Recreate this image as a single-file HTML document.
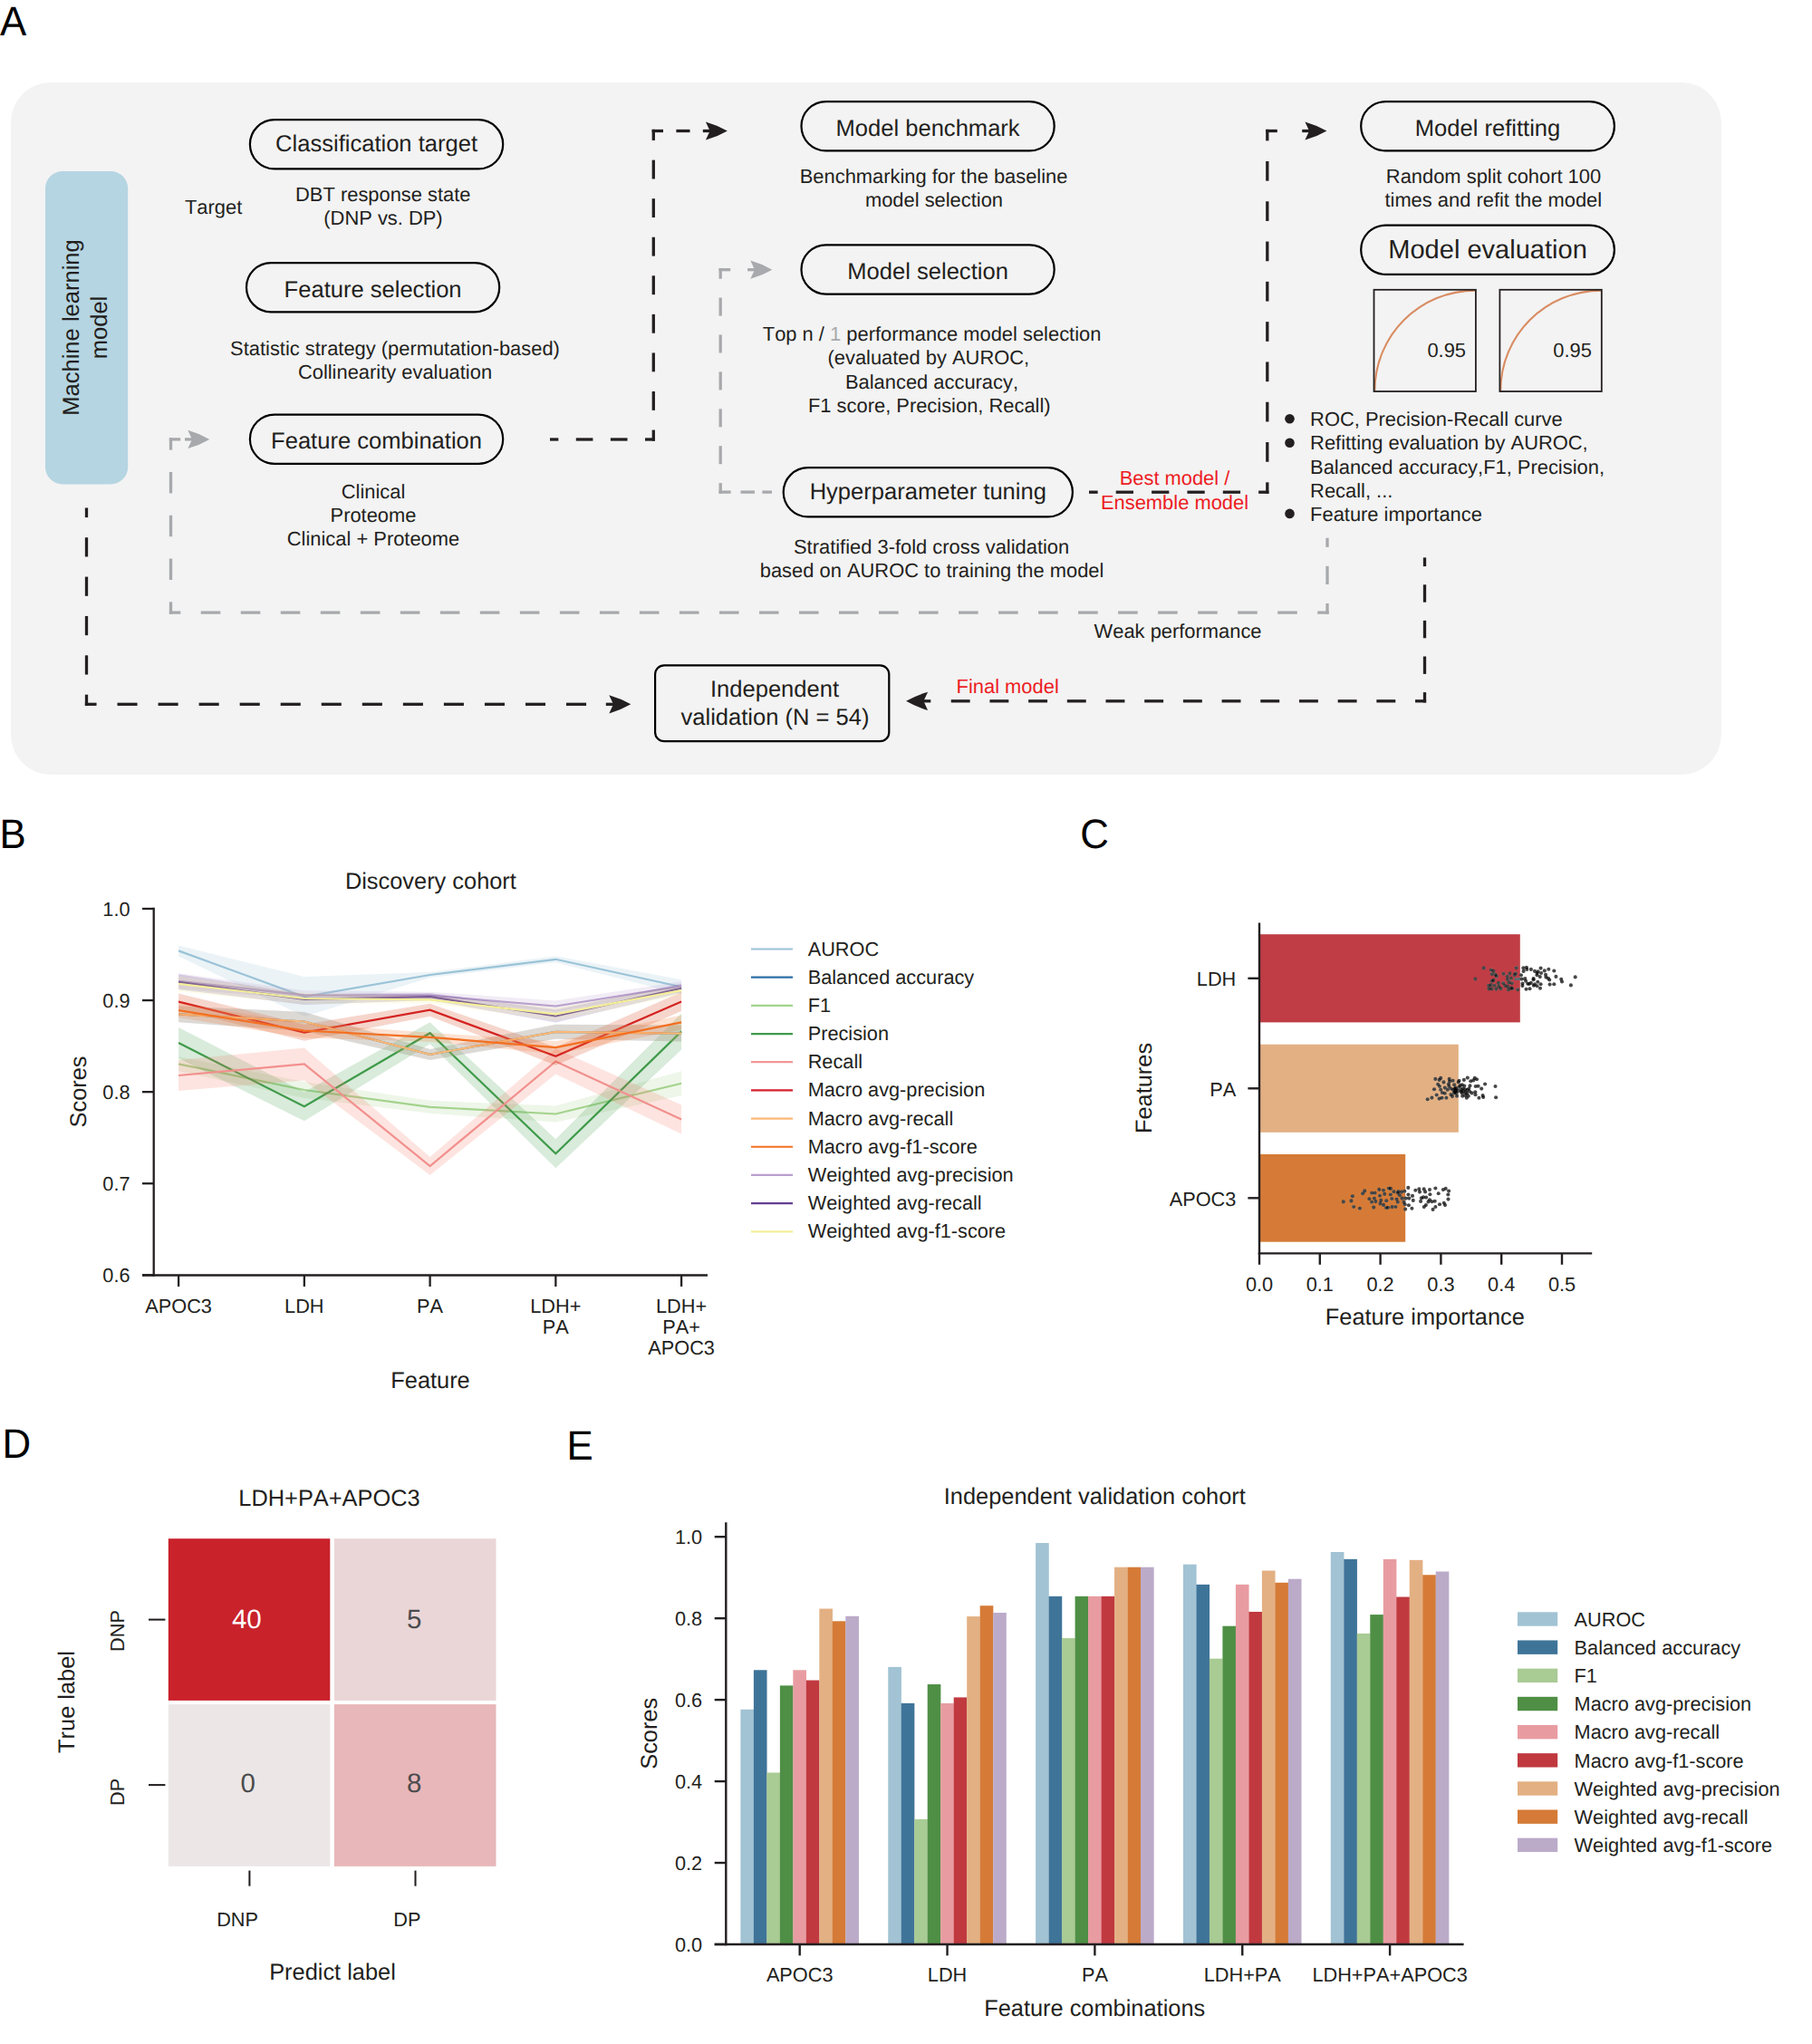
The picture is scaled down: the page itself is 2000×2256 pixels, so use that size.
<!DOCTYPE html>
<html lang="en"><head><meta charset="utf-8"><title>Figure</title>
<style>html,body{margin:0;padding:0;background:#fff;overflow:hidden}svg{display:block}text{font-family:"Liberation Sans",Arial,Helvetica,sans-serif;font-kerning:none;text-rendering:geometricPrecision}</style></head>
<body>
<svg width="2000" height="2256" viewBox="0 0 2000 2256">
<rect x="0" y="0" width="2000" height="2256" fill="#ffffff"/>
<g id="panelA">
<text transform="translate(0.00,38.60) scale(1,1.041)" font-size="43.80" fill="#000">A</text>
<rect x="12" y="91" width="1887.8" height="764" rx="44" ry="44" fill="#f3f3f3"/>
<rect x="50" y="189" width="91.2" height="345.4" rx="19" ry="19" fill="#b5d5e2"/>
<text transform="translate(87.20,361.50) rotate(-90)" font-size="25.55" text-anchor="middle" fill="#231f20">Machine learning</text>
<text transform="translate(117.50,361.50) rotate(-90)" font-size="25.55" text-anchor="middle" fill="#231f20">model</text>
<rect x="275.90" y="132.20" width="279.30" height="54.20" rx="27.10" ry="27.10" fill="none" stroke="#000" stroke-width="2.2"/>
<text x="415.55" y="167.20" font-size="25.55" text-anchor="middle" fill="#231f20">Classification target</text>
<rect x="272.00" y="290.10" width="279.20" height="54.20" rx="27.10" ry="27.10" fill="none" stroke="#000" stroke-width="2.2"/>
<text x="411.60" y="327.80" font-size="25.55" text-anchor="middle" fill="#231f20">Feature selection</text>
<rect x="275.90" y="457.65" width="279.30" height="54.20" rx="27.10" ry="27.10" fill="none" stroke="#000" stroke-width="2.2"/>
<text x="415.55" y="494.70" font-size="25.55" text-anchor="middle" fill="#231f20">Feature combination</text>
<rect x="884.50" y="112.15" width="279.20" height="54.20" rx="27.10" ry="27.10" fill="none" stroke="#000" stroke-width="2.2"/>
<text x="1024.10" y="149.50" font-size="25.55" text-anchor="middle" fill="#231f20">Model benchmark</text>
<rect x="884.50" y="270.35" width="279.20" height="54.20" rx="27.10" ry="27.10" fill="none" stroke="#000" stroke-width="2.2"/>
<text x="1024.10" y="307.80" font-size="25.55" text-anchor="middle" fill="#231f20">Model selection</text>
<rect x="864.70" y="516.20" width="319.20" height="54.20" rx="27.10" ry="27.10" fill="none" stroke="#000" stroke-width="2.2"/>
<text x="1024.30" y="550.70" font-size="25.55" text-anchor="middle" fill="#231f20">Hyperparameter tuning</text>
<rect x="1502.20" y="112.15" width="279.70" height="54.20" rx="27.10" ry="27.10" fill="none" stroke="#000" stroke-width="2.2"/>
<text x="1642.05" y="149.50" font-size="25.55" text-anchor="middle" fill="#231f20">Model refitting</text>
<rect x="1502.20" y="248.60" width="279.70" height="54.20" rx="27.10" ry="27.10" fill="none" stroke="#000" stroke-width="2.2"/>
<text x="1642.05" y="285.30" font-size="29.05" text-anchor="middle" fill="#231f20">Model evaluation</text>
<text x="204.00" y="236.00" font-size="21.90" text-anchor="start" fill="#231f20">Target</text>
<text x="422.80" y="222.00" font-size="21.90" text-anchor="middle" fill="#231f20">DBT response state</text>
<text x="423.00" y="247.90" font-size="21.90" text-anchor="middle" fill="#231f20">(DNP vs. DP)</text>
<text x="436.00" y="392.00" font-size="21.90" text-anchor="middle" fill="#231f20">Statistic strategy (permutation-based)</text>
<text x="436.00" y="418.00" font-size="21.90" text-anchor="middle" fill="#231f20">Collinearity evaluation</text>
<text x="412.00" y="549.70" font-size="21.90" text-anchor="middle" fill="#231f20">Clinical</text>
<text x="412.00" y="575.90" font-size="21.90" text-anchor="middle" fill="#231f20">Proteome</text>
<text x="412.00" y="602.40" font-size="21.90" text-anchor="middle" fill="#231f20">Clinical + Proteome</text>
<text x="1030.60" y="201.90" font-size="21.90" text-anchor="middle" fill="#231f20">Benchmarking for the baseline</text>
<text x="1031.00" y="228.00" font-size="21.90" text-anchor="middle" fill="#231f20">model selection</text>
<text x="1028.6" y="375.7" font-size="21.9" text-anchor="middle" fill="#231f20">Top n / <tspan fill="#a7a9ac">1</tspan> performance model selection</text>
<text x="1024.80" y="401.90" font-size="21.90" text-anchor="middle" fill="#231f20">(evaluated by AUROC,</text>
<text x="1028.50" y="429.00" font-size="21.90" text-anchor="middle" fill="#231f20">Balanced accuracy,</text>
<text x="1025.80" y="454.80" font-size="21.90" text-anchor="middle" fill="#231f20">F1 score, Precision, Recall)</text>
<text x="1028.10" y="610.60" font-size="21.90" text-anchor="middle" fill="#231f20">Stratified 3-fold cross validation</text>
<text x="1028.60" y="636.80" font-size="21.90" text-anchor="middle" fill="#231f20">based on AUROC to training the model</text>
<text x="1648.50" y="201.90" font-size="21.90" text-anchor="middle" fill="#231f20">Random split cohort 100</text>
<text x="1648.30" y="228.00" font-size="21.90" text-anchor="middle" fill="#231f20">times and refit the model</text>
<path d="M1517.30,432.00 C1517.30,370.03 1566.82,320.60 1628.90,320.60" fill="none" stroke="#d98c62" stroke-width="2.1"/>
<rect x="1516.50" y="319.80" width="112.40" height="112.20" fill="none" stroke="#231f20" stroke-width="1.8"/>
<text x="1575.40" y="393.60" font-size="21.90" text-anchor="start" fill="#231f20">0.95</text>
<path d="M1656.20,432.00 C1656.20,370.03 1705.72,320.60 1767.80,320.60" fill="none" stroke="#d98c62" stroke-width="2.1"/>
<rect x="1655.40" y="319.80" width="112.40" height="112.20" fill="none" stroke="#231f20" stroke-width="1.8"/>
<text x="1714.30" y="393.60" font-size="21.90" text-anchor="start" fill="#231f20">0.95</text>
<text x="1446.10" y="469.90" font-size="21.90" text-anchor="start" fill="#231f20">ROC, Precision-Recall curve</text>
<text x="1446.10" y="495.70" font-size="21.90" text-anchor="start" fill="#231f20">Refitting evaluation by AUROC,</text>
<text x="1446.10" y="522.80" font-size="21.90" text-anchor="start" fill="#231f20">Balanced accuracy,F1, Precision,</text>
<text x="1446.10" y="548.80" font-size="21.90" text-anchor="start" fill="#231f20">Recall, ...</text>
<text x="1446.10" y="574.70" font-size="21.90" text-anchor="start" fill="#231f20">Feature importance</text>
<circle cx="1423.5" cy="462.2" r="5.3" fill="#231f20"/>
<circle cx="1423.5" cy="488.8" r="5.3" fill="#231f20"/>
<circle cx="1423.5" cy="566.9" r="5.3" fill="#231f20"/>
<text x="1296.50" y="534.90" font-size="21.90" text-anchor="middle" fill="#ed1c24">Best model /</text>
<text x="1296.50" y="562.10" font-size="21.90" text-anchor="middle" fill="#ed1c24">Ensemble model</text>
<text x="1055.60" y="765.20" font-size="21.90" text-anchor="start" fill="#ed1c24">Final model</text>
<text x="1207.60" y="704.00" font-size="21.90" text-anchor="start" fill="#231f20">Weak performance</text>
<rect x="723.1" y="734.3" width="258.2" height="83.9" rx="10" ry="10" fill="none" stroke="#000" stroke-width="2.2"/>
<text x="855.00" y="768.50" font-size="25.55" text-anchor="middle" fill="#231f20">Independent</text>
<text x="855.50" y="799.70" font-size="25.55" text-anchor="middle" fill="#231f20">validation (N = 54)</text>
<line x1="607.00" y1="485.00" x2="616.33" y2="485.00" stroke="#231f20" stroke-width="3.3"/>
<line x1="635.77" y1="485.00" x2="654.43" y2="485.00" stroke="#231f20" stroke-width="3.3"/>
<line x1="673.87" y1="485.00" x2="692.53" y2="485.00" stroke="#231f20" stroke-width="3.3"/>
<line x1="711.97" y1="485.00" x2="722.95" y2="485.00" stroke="#231f20" stroke-width="3.3"/>
<line x1="721.30" y1="486.65" x2="721.30" y2="474.57" stroke="#231f20" stroke-width="3.3"/>
<line x1="721.30" y1="452.87" x2="721.30" y2="432.01" stroke="#231f20" stroke-width="3.3"/>
<line x1="721.30" y1="410.30" x2="721.30" y2="389.45" stroke="#231f20" stroke-width="3.3"/>
<line x1="721.30" y1="367.74" x2="721.30" y2="346.88" stroke="#231f20" stroke-width="3.3"/>
<line x1="721.30" y1="325.18" x2="721.30" y2="304.32" stroke="#231f20" stroke-width="3.3"/>
<line x1="721.30" y1="282.62" x2="721.30" y2="261.76" stroke="#231f20" stroke-width="3.3"/>
<line x1="721.30" y1="240.05" x2="721.30" y2="219.20" stroke="#231f20" stroke-width="3.3"/>
<line x1="721.30" y1="197.49" x2="721.30" y2="176.63" stroke="#231f20" stroke-width="3.3"/>
<line x1="721.30" y1="154.93" x2="721.30" y2="142.85" stroke="#231f20" stroke-width="3.3"/>
<line x1="719.65" y1="144.50" x2="732.00" y2="144.50" stroke="#231f20" stroke-width="3.3"/>
<line x1="746.40" y1="144.50" x2="761.50" y2="144.50" stroke="#231f20" stroke-width="3.3"/>
<line x1="775.80" y1="144.50" x2="785.00" y2="144.50" stroke="#231f20" stroke-width="3.3"/>
<path d="M802.90,144.50 Q792.10,138.20 778.90,134.40 L783.60,144.50 L778.90,154.60 Q792.10,150.80 802.90,144.50 Z" fill="#231f20"/>
<line x1="793.55" y1="543.10" x2="806.60" y2="543.10" stroke="#a7a9ac" stroke-width="3.3"/>
<line x1="817.50" y1="543.10" x2="833.00" y2="543.10" stroke="#a7a9ac" stroke-width="3.3"/>
<line x1="841.40" y1="543.10" x2="852.00" y2="543.10" stroke="#a7a9ac" stroke-width="3.3"/>
<line x1="795.20" y1="544.75" x2="795.20" y2="533.08" stroke="#a7a9ac" stroke-width="3.3"/>
<line x1="795.20" y1="512.22" x2="795.20" y2="492.18" stroke="#a7a9ac" stroke-width="3.3"/>
<line x1="795.20" y1="471.32" x2="795.20" y2="451.28" stroke="#a7a9ac" stroke-width="3.3"/>
<line x1="795.20" y1="430.42" x2="795.20" y2="410.38" stroke="#a7a9ac" stroke-width="3.3"/>
<line x1="795.20" y1="389.52" x2="795.20" y2="369.48" stroke="#a7a9ac" stroke-width="3.3"/>
<line x1="795.20" y1="348.62" x2="795.20" y2="328.58" stroke="#a7a9ac" stroke-width="3.3"/>
<line x1="795.20" y1="307.72" x2="795.20" y2="296.05" stroke="#a7a9ac" stroke-width="3.3"/>
<line x1="793.55" y1="297.70" x2="806.20" y2="297.70" stroke="#a7a9ac" stroke-width="3.3"/>
<path d="M852.30,297.70 Q841.50,291.40 828.30,287.60 L833.00,297.70 L828.30,307.80 Q841.50,304.00 852.30,297.70 Z" fill="#a7a9ac"/>
<line x1="825.10" y1="297.70" x2="834.00" y2="297.70" stroke="#a7a9ac" stroke-width="3.3"/>
<line x1="1202.00" y1="543.20" x2="1211.64" y2="543.20" stroke="#231f20" stroke-width="3.3"/>
<line x1="1231.72" y1="543.20" x2="1251.00" y2="543.20" stroke="#231f20" stroke-width="3.3"/>
<line x1="1271.08" y1="543.20" x2="1290.36" y2="543.20" stroke="#231f20" stroke-width="3.3"/>
<line x1="1310.44" y1="543.20" x2="1329.72" y2="543.20" stroke="#231f20" stroke-width="3.3"/>
<line x1="1349.80" y1="543.20" x2="1369.08" y2="543.20" stroke="#231f20" stroke-width="3.3"/>
<line x1="1389.16" y1="543.20" x2="1400.45" y2="543.20" stroke="#231f20" stroke-width="3.3"/>
<line x1="1398.80" y1="544.85" x2="1398.80" y2="532.35" stroke="#231f20" stroke-width="3.3"/>
<line x1="1398.80" y1="509.75" x2="1398.80" y2="488.05" stroke="#231f20" stroke-width="3.3"/>
<line x1="1398.80" y1="465.45" x2="1398.80" y2="443.75" stroke="#231f20" stroke-width="3.3"/>
<line x1="1398.80" y1="421.15" x2="1398.80" y2="399.45" stroke="#231f20" stroke-width="3.3"/>
<line x1="1398.80" y1="376.85" x2="1398.80" y2="355.15" stroke="#231f20" stroke-width="3.3"/>
<line x1="1398.80" y1="332.55" x2="1398.80" y2="310.85" stroke="#231f20" stroke-width="3.3"/>
<line x1="1398.80" y1="288.25" x2="1398.80" y2="266.55" stroke="#231f20" stroke-width="3.3"/>
<line x1="1398.80" y1="243.95" x2="1398.80" y2="222.25" stroke="#231f20" stroke-width="3.3"/>
<line x1="1398.80" y1="199.65" x2="1398.80" y2="177.95" stroke="#231f20" stroke-width="3.3"/>
<line x1="1398.80" y1="155.35" x2="1398.80" y2="142.85" stroke="#231f20" stroke-width="3.3"/>
<line x1="1397.15" y1="144.50" x2="1409.80" y2="144.50" stroke="#231f20" stroke-width="3.3"/>
<path d="M1464.40,144.50 Q1453.60,138.20 1440.40,134.40 L1445.10,144.50 L1440.40,154.60 Q1453.60,150.80 1464.40,144.50 Z" fill="#231f20"/>
<line x1="1437.20" y1="144.50" x2="1446.10" y2="144.50" stroke="#231f20" stroke-width="3.3"/>
<line x1="1465.00" y1="593.80" x2="1465.00" y2="603.88" stroke="#a7a9ac" stroke-width="3.3"/>
<line x1="1465.00" y1="624.87" x2="1465.00" y2="645.03" stroke="#a7a9ac" stroke-width="3.3"/>
<line x1="1465.00" y1="666.02" x2="1465.00" y2="677.75" stroke="#a7a9ac" stroke-width="3.3"/>
<line x1="1466.65" y1="676.10" x2="1454.22" y2="676.10" stroke="#a7a9ac" stroke-width="3.3"/>
<line x1="1431.77" y1="676.10" x2="1410.20" y2="676.10" stroke="#a7a9ac" stroke-width="3.3"/>
<line x1="1387.75" y1="676.10" x2="1366.18" y2="676.10" stroke="#a7a9ac" stroke-width="3.3"/>
<line x1="1343.73" y1="676.10" x2="1322.16" y2="676.10" stroke="#a7a9ac" stroke-width="3.3"/>
<line x1="1299.72" y1="676.10" x2="1278.15" y2="676.10" stroke="#a7a9ac" stroke-width="3.3"/>
<line x1="1255.70" y1="676.10" x2="1234.13" y2="676.10" stroke="#a7a9ac" stroke-width="3.3"/>
<line x1="1211.68" y1="676.10" x2="1190.11" y2="676.10" stroke="#a7a9ac" stroke-width="3.3"/>
<line x1="1167.66" y1="676.10" x2="1146.10" y2="676.10" stroke="#a7a9ac" stroke-width="3.3"/>
<line x1="1123.65" y1="676.10" x2="1102.08" y2="676.10" stroke="#a7a9ac" stroke-width="3.3"/>
<line x1="1079.63" y1="676.10" x2="1058.06" y2="676.10" stroke="#a7a9ac" stroke-width="3.3"/>
<line x1="1035.61" y1="676.10" x2="1014.04" y2="676.10" stroke="#a7a9ac" stroke-width="3.3"/>
<line x1="991.59" y1="676.10" x2="970.03" y2="676.10" stroke="#a7a9ac" stroke-width="3.3"/>
<line x1="947.58" y1="676.10" x2="926.01" y2="676.10" stroke="#a7a9ac" stroke-width="3.3"/>
<line x1="903.56" y1="676.10" x2="881.99" y2="676.10" stroke="#a7a9ac" stroke-width="3.3"/>
<line x1="859.54" y1="676.10" x2="837.97" y2="676.10" stroke="#a7a9ac" stroke-width="3.3"/>
<line x1="815.53" y1="676.10" x2="793.96" y2="676.10" stroke="#a7a9ac" stroke-width="3.3"/>
<line x1="771.51" y1="676.10" x2="749.94" y2="676.10" stroke="#a7a9ac" stroke-width="3.3"/>
<line x1="727.49" y1="676.10" x2="705.92" y2="676.10" stroke="#a7a9ac" stroke-width="3.3"/>
<line x1="683.47" y1="676.10" x2="661.91" y2="676.10" stroke="#a7a9ac" stroke-width="3.3"/>
<line x1="639.46" y1="676.10" x2="617.89" y2="676.10" stroke="#a7a9ac" stroke-width="3.3"/>
<line x1="595.44" y1="676.10" x2="573.87" y2="676.10" stroke="#a7a9ac" stroke-width="3.3"/>
<line x1="551.42" y1="676.10" x2="529.85" y2="676.10" stroke="#a7a9ac" stroke-width="3.3"/>
<line x1="507.40" y1="676.10" x2="485.84" y2="676.10" stroke="#a7a9ac" stroke-width="3.3"/>
<line x1="463.39" y1="676.10" x2="441.82" y2="676.10" stroke="#a7a9ac" stroke-width="3.3"/>
<line x1="419.37" y1="676.10" x2="397.80" y2="676.10" stroke="#a7a9ac" stroke-width="3.3"/>
<line x1="375.35" y1="676.10" x2="353.78" y2="676.10" stroke="#a7a9ac" stroke-width="3.3"/>
<line x1="331.34" y1="676.10" x2="309.77" y2="676.10" stroke="#a7a9ac" stroke-width="3.3"/>
<line x1="287.32" y1="676.10" x2="265.75" y2="676.10" stroke="#a7a9ac" stroke-width="3.3"/>
<line x1="243.30" y1="676.10" x2="221.73" y2="676.10" stroke="#a7a9ac" stroke-width="3.3"/>
<line x1="199.28" y1="676.10" x2="186.85" y2="676.10" stroke="#a7a9ac" stroke-width="3.3"/>
<line x1="188.50" y1="677.75" x2="188.50" y2="664.39" stroke="#a7a9ac" stroke-width="3.3"/>
<line x1="188.50" y1="640.01" x2="188.50" y2="616.59" stroke="#a7a9ac" stroke-width="3.3"/>
<line x1="188.50" y1="592.21" x2="188.50" y2="568.79" stroke="#a7a9ac" stroke-width="3.3"/>
<line x1="188.50" y1="544.41" x2="188.50" y2="520.99" stroke="#a7a9ac" stroke-width="3.3"/>
<line x1="188.50" y1="496.61" x2="188.50" y2="483.25" stroke="#a7a9ac" stroke-width="3.3"/>
<line x1="186.85" y1="484.90" x2="199.20" y2="484.90" stroke="#a7a9ac" stroke-width="3.3"/>
<path d="M231.30,484.90 Q220.50,478.60 207.30,474.80 L212.00,484.90 L207.30,495.00 Q220.50,491.20 231.30,484.90 Z" fill="#a7a9ac"/>
<line x1="204.00" y1="484.90" x2="213.00" y2="484.90" stroke="#a7a9ac" stroke-width="3.3"/>
<line x1="1572.50" y1="615.40" x2="1572.50" y2="625.10" stroke="#231f20" stroke-width="3.3"/>
<line x1="1572.50" y1="645.30" x2="1572.50" y2="664.70" stroke="#231f20" stroke-width="3.3"/>
<line x1="1572.50" y1="684.90" x2="1572.50" y2="704.30" stroke="#231f20" stroke-width="3.3"/>
<line x1="1572.50" y1="724.50" x2="1572.50" y2="743.90" stroke="#231f20" stroke-width="3.3"/>
<line x1="1572.50" y1="764.10" x2="1572.50" y2="775.45" stroke="#231f20" stroke-width="3.3"/>
<line x1="1574.15" y1="773.80" x2="1562.04" y2="773.80" stroke="#231f20" stroke-width="3.3"/>
<line x1="1540.27" y1="773.80" x2="1519.35" y2="773.80" stroke="#231f20" stroke-width="3.3"/>
<line x1="1497.58" y1="773.80" x2="1476.66" y2="773.80" stroke="#231f20" stroke-width="3.3"/>
<line x1="1454.88" y1="773.80" x2="1433.96" y2="773.80" stroke="#231f20" stroke-width="3.3"/>
<line x1="1412.19" y1="773.80" x2="1391.27" y2="773.80" stroke="#231f20" stroke-width="3.3"/>
<line x1="1369.50" y1="773.80" x2="1348.58" y2="773.80" stroke="#231f20" stroke-width="3.3"/>
<line x1="1326.81" y1="773.80" x2="1305.89" y2="773.80" stroke="#231f20" stroke-width="3.3"/>
<line x1="1284.11" y1="773.80" x2="1263.19" y2="773.80" stroke="#231f20" stroke-width="3.3"/>
<line x1="1241.42" y1="773.80" x2="1220.50" y2="773.80" stroke="#231f20" stroke-width="3.3"/>
<line x1="1198.73" y1="773.80" x2="1177.81" y2="773.80" stroke="#231f20" stroke-width="3.3"/>
<line x1="1156.04" y1="773.80" x2="1135.12" y2="773.80" stroke="#231f20" stroke-width="3.3"/>
<line x1="1113.34" y1="773.80" x2="1092.42" y2="773.80" stroke="#231f20" stroke-width="3.3"/>
<line x1="1070.65" y1="773.80" x2="1049.73" y2="773.80" stroke="#231f20" stroke-width="3.3"/>
<path d="M1000.10,773.80 Q1010.90,767.50 1024.10,763.70 L1019.40,773.80 L1024.10,783.90 Q1010.90,780.10 1000.10,773.80 Z" fill="#231f20"/>
<line x1="1027.30" y1="773.80" x2="1018.40" y2="773.80" stroke="#231f20" stroke-width="3.3"/>
<line x1="95.50" y1="560.50" x2="95.50" y2="571.12" stroke="#231f20" stroke-width="3.3"/>
<line x1="95.50" y1="593.24" x2="95.50" y2="614.48" stroke="#231f20" stroke-width="3.3"/>
<line x1="95.50" y1="636.60" x2="95.50" y2="657.84" stroke="#231f20" stroke-width="3.3"/>
<line x1="95.50" y1="679.96" x2="95.50" y2="701.20" stroke="#231f20" stroke-width="3.3"/>
<line x1="95.50" y1="723.32" x2="95.50" y2="744.56" stroke="#231f20" stroke-width="3.3"/>
<line x1="95.50" y1="766.68" x2="95.50" y2="778.95" stroke="#231f20" stroke-width="3.3"/>
<line x1="93.85" y1="777.30" x2="106.54" y2="777.30" stroke="#231f20" stroke-width="3.3"/>
<line x1="129.51" y1="777.30" x2="151.58" y2="777.30" stroke="#231f20" stroke-width="3.3"/>
<line x1="174.56" y1="777.30" x2="196.63" y2="777.30" stroke="#231f20" stroke-width="3.3"/>
<line x1="219.60" y1="777.30" x2="241.67" y2="777.30" stroke="#231f20" stroke-width="3.3"/>
<line x1="264.65" y1="777.30" x2="286.72" y2="777.30" stroke="#231f20" stroke-width="3.3"/>
<line x1="309.69" y1="777.30" x2="331.77" y2="777.30" stroke="#231f20" stroke-width="3.3"/>
<line x1="354.74" y1="777.30" x2="376.81" y2="777.30" stroke="#231f20" stroke-width="3.3"/>
<line x1="399.79" y1="777.30" x2="421.86" y2="777.30" stroke="#231f20" stroke-width="3.3"/>
<line x1="444.83" y1="777.30" x2="466.91" y2="777.30" stroke="#231f20" stroke-width="3.3"/>
<line x1="489.88" y1="777.30" x2="511.95" y2="777.30" stroke="#231f20" stroke-width="3.3"/>
<line x1="534.93" y1="777.30" x2="557.00" y2="777.30" stroke="#231f20" stroke-width="3.3"/>
<line x1="579.97" y1="777.30" x2="602.04" y2="777.30" stroke="#231f20" stroke-width="3.3"/>
<line x1="625.02" y1="777.30" x2="647.09" y2="777.30" stroke="#231f20" stroke-width="3.3"/>
<path d="M696.30,777.30 Q685.50,771.00 672.30,767.20 L677.00,777.30 L672.30,787.40 Q685.50,783.60 696.30,777.30 Z" fill="#231f20"/>
<line x1="668.80" y1="777.30" x2="678.00" y2="777.30" stroke="#231f20" stroke-width="3.3"/>
</g>
<g id="panelB">
<text transform="translate(-0.60,935.50) scale(1,1.041)" font-size="43.80" fill="#000">B</text>
<text x="475.40" y="981.00" font-size="25.38" text-anchor="middle" fill="#231f20">Discovery cohort</text>
<polyline points="197.10,1049.4 335.85,1100.1 474.60,1076.0 613.35,1058.8 752.10,1089.2" fill="none" stroke="#9ac4d8" stroke-width="2.2" stroke-linejoin="miter"/>
<polygon points="197.10,1043.4 335.85,1078.1 474.60,1073.0 613.35,1055.3 752.10,1081.2 752.10,1097.2 613.35,1062.3 474.60,1079.0 335.85,1122.1 197.10,1055.4" fill="#9ac4d8" fill-opacity="0.2"/>
<polyline points="197.10,1119.3 335.85,1127.5 474.60,1163.9 613.35,1138.8 752.10,1140.6" fill="none" stroke="#2d6fa5" stroke-width="2.2" stroke-linejoin="miter"/>
<polygon points="197.10,1110.3 335.85,1117.0 474.60,1157.9 613.35,1130.8 752.10,1131.6 752.10,1149.6 613.35,1146.8 474.60,1169.9 335.85,1138.0 197.10,1128.3" fill="#2d6fa5" fill-opacity="0.2"/>
<polyline points="197.10,1174.3 335.85,1203.0 474.60,1221.8 613.35,1229.5 752.10,1195.8" fill="none" stroke="#a3d38c" stroke-width="2.2" stroke-linejoin="miter"/>
<polygon points="197.10,1166.3 335.85,1194.0 474.60,1214.8 613.35,1220.5 752.10,1182.3 752.10,1209.3 613.35,1238.5 474.60,1228.8 335.85,1212.0 197.10,1182.3" fill="#a3d38c" fill-opacity="0.2"/>
<polyline points="197.10,1151.1 335.85,1221.3 474.60,1140.2 613.35,1273.3 752.10,1138.4" fill="none" stroke="#3f9b4a" stroke-width="2.2" stroke-linejoin="miter"/>
<polygon points="197.10,1134.1 335.85,1205.3 474.60,1128.2 613.35,1257.3 752.10,1118.4 752.10,1158.4 613.35,1289.3 474.60,1152.2 335.85,1237.3 197.10,1168.1" fill="#3f9b4a" fill-opacity="0.2"/>
<polyline points="197.10,1187.0 335.85,1174.5 474.60,1287.0 613.35,1171.5 752.10,1235.5" fill="none" stroke="#f29699" stroke-width="2.2" stroke-linejoin="miter"/>
<polygon points="197.10,1170.0 335.85,1156.5 474.60,1277.0 613.35,1157.5 752.10,1219.5 752.10,1251.5 613.35,1185.5 474.60,1297.0 335.85,1192.5 197.10,1204.0" fill="#f57864" fill-opacity="0.2"/>
<polyline points="197.10,1105.6 335.85,1139.7 474.60,1114.7 613.35,1165.7 752.10,1105.6" fill="none" stroke="#d5202b" stroke-width="2.2" stroke-linejoin="miter"/>
<polygon points="197.10,1096.6 335.85,1130.7 474.60,1107.7 613.35,1155.7 752.10,1095.1 752.10,1116.1 613.35,1175.7 474.60,1121.7 335.85,1148.7 197.10,1114.6" fill="#d23200" fill-opacity="0.2"/>
<polyline points="197.10,1119.3 335.85,1127.5 474.60,1163.9 613.35,1138.8 752.10,1140.6" fill="none" stroke="#fbb977" stroke-width="2.2" stroke-linejoin="miter"/>
<polygon points="197.10,1110.3 335.85,1117.0 474.60,1157.9 613.35,1130.8 752.10,1131.6 752.10,1149.6 613.35,1146.8 474.60,1169.9 335.85,1138.0 197.10,1128.3" fill="#fbb977" fill-opacity="0.2"/>
<polyline points="197.10,1115.1 335.85,1137.5 474.60,1144.8 613.35,1156.2 752.10,1128.4" fill="none" stroke="#f37021" stroke-width="2.2" stroke-linejoin="miter"/>
<polygon points="197.10,1107.1 335.85,1129.5 474.60,1139.8 613.35,1149.2 752.10,1120.4 752.10,1136.4 613.35,1163.2 474.60,1149.8 335.85,1145.5 197.10,1123.1" fill="#f37021" fill-opacity="0.2"/>
<polyline points="197.10,1082.8 335.85,1098.3 474.60,1098.7 613.35,1110.5 752.10,1088.3" fill="none" stroke="#b9a0cd" stroke-width="2.2" stroke-linejoin="miter"/>
<polygon points="197.10,1074.3 335.85,1093.3 474.60,1094.7 613.35,1104.5 752.10,1083.3 752.10,1093.3 613.35,1116.5 474.60,1102.7 335.85,1103.3 197.10,1091.3" fill="#b9a0cd" fill-opacity="0.2"/>
<polyline points="197.10,1083.8 335.85,1102.9 474.60,1100.1 613.35,1121.5 752.10,1090.7" fill="none" stroke="#653f92" stroke-width="2.2" stroke-linejoin="miter"/>
<polygon points="197.10,1075.3 335.85,1096.9 474.60,1096.1 613.35,1114.5 752.10,1085.7 752.10,1095.7 613.35,1128.5 474.60,1104.1 335.85,1108.9 197.10,1092.3" fill="#653f92" fill-opacity="0.2"/>
<polyline points="197.10,1085.9 335.85,1102.0 474.60,1103.4 613.35,1119.3 752.10,1093.2" fill="none" stroke="#f4ef9a" stroke-width="2.2" stroke-linejoin="miter"/>
<polygon points="197.10,1077.4 335.85,1096.0 474.60,1099.4 613.35,1112.3 752.10,1088.2 752.10,1098.2 613.35,1126.3 474.60,1107.4 335.85,1108.0 197.10,1094.4" fill="#f4ef9a" fill-opacity="0.2"/>
<line x1="169.70" y1="1001.85" x2="169.70" y2="1408.65" stroke="#231f20" stroke-width="2.3"/>
<line x1="157.00" y1="1407.50" x2="781.00" y2="1407.50" stroke="#231f20" stroke-width="2.3"/>
<line x1="157.00" y1="1003.00" x2="169.70" y2="1003.00" stroke="#231f20" stroke-width="2.3"/>
<text x="143.50" y="1010.70" font-size="21.72" text-anchor="end" fill="#231f20">1.0</text>
<line x1="157.00" y1="1104.08" x2="169.70" y2="1104.08" stroke="#231f20" stroke-width="2.3"/>
<text x="143.50" y="1111.78" font-size="21.72" text-anchor="end" fill="#231f20">0.9</text>
<line x1="157.00" y1="1205.16" x2="169.70" y2="1205.16" stroke="#231f20" stroke-width="2.3"/>
<text x="143.50" y="1212.86" font-size="21.72" text-anchor="end" fill="#231f20">0.8</text>
<line x1="157.00" y1="1306.24" x2="169.70" y2="1306.24" stroke="#231f20" stroke-width="2.3"/>
<text x="143.50" y="1313.94" font-size="21.72" text-anchor="end" fill="#231f20">0.7</text>
<line x1="157.00" y1="1407.32" x2="169.70" y2="1407.32" stroke="#231f20" stroke-width="2.3"/>
<text x="143.50" y="1415.02" font-size="21.72" text-anchor="end" fill="#231f20">0.6</text>
<line x1="197.10" y1="1407.50" x2="197.10" y2="1420.00" stroke="#231f20" stroke-width="2.3"/>
<text x="197.10" y="1448.50" font-size="21.72" text-anchor="middle" fill="#231f20">APOC3</text>
<line x1="335.85" y1="1407.50" x2="335.85" y2="1420.00" stroke="#231f20" stroke-width="2.3"/>
<text x="335.85" y="1448.50" font-size="21.72" text-anchor="middle" fill="#231f20">LDH</text>
<line x1="474.60" y1="1407.50" x2="474.60" y2="1420.00" stroke="#231f20" stroke-width="2.3"/>
<text x="474.60" y="1448.50" font-size="21.72" text-anchor="middle" fill="#231f20">PA</text>
<line x1="613.35" y1="1407.50" x2="613.35" y2="1420.00" stroke="#231f20" stroke-width="2.3"/>
<text x="613.35" y="1448.50" font-size="21.72" text-anchor="middle" fill="#231f20">LDH+</text>
<text x="613.35" y="1471.60" font-size="21.72" text-anchor="middle" fill="#231f20">PA</text>
<line x1="752.10" y1="1407.50" x2="752.10" y2="1420.00" stroke="#231f20" stroke-width="2.3"/>
<text x="752.10" y="1448.50" font-size="21.72" text-anchor="middle" fill="#231f20">LDH+</text>
<text x="752.10" y="1471.60" font-size="21.72" text-anchor="middle" fill="#231f20">PA+</text>
<text x="752.10" y="1494.70" font-size="21.72" text-anchor="middle" fill="#231f20">APOC3</text>
<text x="475.00" y="1532.30" font-size="25.38" text-anchor="middle" fill="#231f20">Feature</text>
<text transform="translate(94.80,1205.00) rotate(-90)" font-size="25.38" text-anchor="middle" fill="#231f20">Scores</text>
<line x1="829.00" y1="1047.50" x2="875.00" y2="1047.50" stroke="#9ac4d8" stroke-width="2.2"/>
<text x="891.70" y="1054.50" font-size="21.72" text-anchor="start" fill="#231f20">AUROC</text>
<line x1="829.00" y1="1078.68" x2="875.00" y2="1078.68" stroke="#2d6fa5" stroke-width="2.2"/>
<text x="891.70" y="1085.68" font-size="21.72" text-anchor="start" fill="#231f20">Balanced accuracy</text>
<line x1="829.00" y1="1109.86" x2="875.00" y2="1109.86" stroke="#a3d38c" stroke-width="2.2"/>
<text x="891.70" y="1116.86" font-size="21.72" text-anchor="start" fill="#231f20">F1</text>
<line x1="829.00" y1="1141.04" x2="875.00" y2="1141.04" stroke="#3f9b4a" stroke-width="2.2"/>
<text x="891.70" y="1148.04" font-size="21.72" text-anchor="start" fill="#231f20">Precision</text>
<line x1="829.00" y1="1172.22" x2="875.00" y2="1172.22" stroke="#f29699" stroke-width="2.2"/>
<text x="891.70" y="1179.22" font-size="21.72" text-anchor="start" fill="#231f20">Recall</text>
<line x1="829.00" y1="1203.40" x2="875.00" y2="1203.40" stroke="#d5202b" stroke-width="2.2"/>
<text x="891.70" y="1210.40" font-size="21.72" text-anchor="start" fill="#231f20">Macro avg-precision</text>
<line x1="829.00" y1="1234.58" x2="875.00" y2="1234.58" stroke="#fbb977" stroke-width="2.2"/>
<text x="891.70" y="1241.58" font-size="21.72" text-anchor="start" fill="#231f20">Macro avg-recall</text>
<line x1="829.00" y1="1265.76" x2="875.00" y2="1265.76" stroke="#f37021" stroke-width="2.2"/>
<text x="891.70" y="1272.76" font-size="21.72" text-anchor="start" fill="#231f20">Macro avg-f1-score</text>
<line x1="829.00" y1="1296.94" x2="875.00" y2="1296.94" stroke="#b9a0cd" stroke-width="2.2"/>
<text x="891.70" y="1303.94" font-size="21.72" text-anchor="start" fill="#231f20">Weighted avg-precision</text>
<line x1="829.00" y1="1328.12" x2="875.00" y2="1328.12" stroke="#653f92" stroke-width="2.2"/>
<text x="891.70" y="1335.12" font-size="21.72" text-anchor="start" fill="#231f20">Weighted avg-recall</text>
<line x1="829.00" y1="1359.30" x2="875.00" y2="1359.30" stroke="#f4ef9a" stroke-width="2.2"/>
<text x="891.70" y="1366.30" font-size="21.72" text-anchor="start" fill="#231f20">Weighted avg-f1-score</text>
</g>
<g id="panelC">
<text transform="translate(1192.20,936.00) scale(1,1.041)" font-size="43.80" fill="#000">C</text>
<rect x="1390" y="1031.2" width="287.8" height="97.2" fill="#c03d45"/>
<rect x="1390" y="1152.7" width="219.8" height="97.1" fill="#e3b083"/>
<rect x="1390" y="1274.0" width="161.2" height="96.7" fill="#d57b37"/>
<line x1="1671.70" y1="1080.50" x2="1684.00" y2="1080.50" stroke="#5f6b70" stroke-width="3"/>
<line x1="1606.50" y1="1201.60" x2="1613.00" y2="1201.60" stroke="#5f6b70" stroke-width="3"/>
<line x1="1546.50" y1="1322.60" x2="1556.00" y2="1322.60" stroke="#5f6b70" stroke-width="3"/>
<g fill="#ffffff" fill-opacity="1">
<circle cx="1628.4" cy="1080.6" r="1.9"/>
<circle cx="1637.7" cy="1068.4" r="1.9"/>
<circle cx="1645.8" cy="1070.5" r="1.9"/>
<circle cx="1648.5" cy="1071.9" r="1.9"/>
<circle cx="1646.8" cy="1075.2" r="1.9"/>
<circle cx="1650.6" cy="1075.7" r="1.9"/>
<circle cx="1651.8" cy="1077.5" r="1.9"/>
<circle cx="1659.5" cy="1074.7" r="1.9"/>
<circle cx="1666.5" cy="1074.4" r="1.9"/>
<circle cx="1672.9" cy="1074.2" r="1.9"/>
<circle cx="1671.7" cy="1076.3" r="1.9"/>
<circle cx="1673.7" cy="1068.2" r="1.9"/>
<circle cx="1663.8" cy="1077.7" r="1.9"/>
<circle cx="1667.9" cy="1079.8" r="1.9"/>
<circle cx="1663.8" cy="1081.0" r="1.9"/>
<circle cx="1646.8" cy="1082.7" r="1.9"/>
<circle cx="1648.5" cy="1081.9" r="1.9"/>
<circle cx="1653.9" cy="1084.9" r="1.9"/>
<circle cx="1659.3" cy="1085.2" r="1.9"/>
<circle cx="1665.5" cy="1084.4" r="1.9"/>
<circle cx="1668.8" cy="1085.2" r="1.9"/>
<circle cx="1643.1" cy="1087.7" r="1.9"/>
<circle cx="1645.8" cy="1087.1" r="1.9"/>
<circle cx="1649.7" cy="1087.7" r="1.9"/>
<circle cx="1654.3" cy="1088.9" r="1.9"/>
<circle cx="1661.3" cy="1088.1" r="1.9"/>
<circle cx="1664.2" cy="1088.9" r="1.9"/>
<circle cx="1667.9" cy="1090.6" r="1.9"/>
<circle cx="1643.5" cy="1091.4" r="1.9"/>
<circle cx="1646.4" cy="1091.4" r="1.9"/>
<circle cx="1651.4" cy="1091.6" r="1.9"/>
<circle cx="1656.5" cy="1091.1" r="1.9"/>
<circle cx="1665.0" cy="1092.2" r="1.9"/>
<circle cx="1669.2" cy="1091.0" r="1.9"/>
<circle cx="1675.2" cy="1092.2" r="1.9"/>
<circle cx="1681.4" cy="1068.2" r="1.9"/>
<circle cx="1684.9" cy="1067.8" r="1.9"/>
<circle cx="1685.3" cy="1069.9" r="1.9"/>
<circle cx="1681.6" cy="1071.9" r="1.9"/>
<circle cx="1689.9" cy="1069.9" r="1.9"/>
<circle cx="1694.0" cy="1071.9" r="1.9"/>
<circle cx="1696.5" cy="1074.0" r="1.9"/>
<circle cx="1697.7" cy="1072.4" r="1.9"/>
<circle cx="1700.6" cy="1068.6" r="1.9"/>
<circle cx="1701.1" cy="1074.0" r="1.9"/>
<circle cx="1704.8" cy="1071.4" r="1.9"/>
<circle cx="1709.3" cy="1069.7" r="1.9"/>
<circle cx="1715.3" cy="1071.5" r="1.9"/>
<circle cx="1678.9" cy="1076.3" r="1.9"/>
<circle cx="1696.5" cy="1076.3" r="1.9"/>
<circle cx="1699.8" cy="1078.1" r="1.9"/>
<circle cx="1706.0" cy="1075.8" r="1.9"/>
<circle cx="1706.4" cy="1078.6" r="1.9"/>
<circle cx="1708.9" cy="1079.8" r="1.9"/>
<circle cx="1710.2" cy="1081.5" r="1.9"/>
<circle cx="1717.4" cy="1077.9" r="1.9"/>
<circle cx="1723.2" cy="1080.8" r="1.9"/>
<circle cx="1724.0" cy="1083.5" r="1.9"/>
<circle cx="1738.7" cy="1078.4" r="1.9"/>
<circle cx="1733.9" cy="1087.4" r="1.9"/>
<circle cx="1679.5" cy="1080.6" r="1.9"/>
<circle cx="1683.3" cy="1080.0" r="1.9"/>
<circle cx="1684.1" cy="1082.7" r="1.9"/>
<circle cx="1692.6" cy="1080.0" r="1.9"/>
<circle cx="1692.6" cy="1081.3" r="1.9"/>
<circle cx="1697.3" cy="1083.8" r="1.9"/>
<circle cx="1689.9" cy="1084.9" r="1.9"/>
<circle cx="1686.2" cy="1085.8" r="1.9"/>
<circle cx="1687.8" cy="1086.0" r="1.9"/>
<circle cx="1680.5" cy="1085.6" r="1.9"/>
<circle cx="1680.4" cy="1088.1" r="1.9"/>
<circle cx="1692.8" cy="1087.7" r="1.9"/>
<circle cx="1694.0" cy="1086.4" r="1.9"/>
<circle cx="1696.5" cy="1088.2" r="1.9"/>
<circle cx="1700.6" cy="1086.2" r="1.9"/>
<circle cx="1710.6" cy="1086.6" r="1.9"/>
<circle cx="1715.3" cy="1086.2" r="1.9"/>
<circle cx="1700.0" cy="1090.7" r="1.9"/>
<circle cx="1684.5" cy="1091.8" r="1.9"/>
<circle cx="1688.5" cy="1091.2" r="1.9"/>
<circle cx="1575.7" cy="1213.2" r="1.9"/>
<circle cx="1580.4" cy="1211.6" r="1.9"/>
<circle cx="1583.0" cy="1202.3" r="1.9"/>
<circle cx="1584.3" cy="1190.9" r="1.9"/>
<circle cx="1585.7" cy="1208.5" r="1.9"/>
<circle cx="1587.1" cy="1196.7" r="1.9"/>
<circle cx="1588.6" cy="1191.9" r="1.9"/>
<circle cx="1590.2" cy="1189.9" r="1.9"/>
<circle cx="1589.0" cy="1199.0" r="1.9"/>
<circle cx="1590.2" cy="1202.7" r="1.9"/>
<circle cx="1591.9" cy="1206.0" r="1.9"/>
<circle cx="1593.5" cy="1194.4" r="1.9"/>
<circle cx="1594.8" cy="1206.8" r="1.9"/>
<circle cx="1588.6" cy="1212.6" r="1.9"/>
<circle cx="1591.5" cy="1211.8" r="1.9"/>
<circle cx="1596.4" cy="1211.8" r="1.9"/>
<circle cx="1594.8" cy="1200.6" r="1.9"/>
<circle cx="1597.7" cy="1202.7" r="1.9"/>
<circle cx="1598.9" cy="1196.5" r="1.9"/>
<circle cx="1599.7" cy="1190.9" r="1.9"/>
<circle cx="1600.1" cy="1193.6" r="1.9"/>
<circle cx="1599.3" cy="1199.0" r="1.9"/>
<circle cx="1601.4" cy="1201.5" r="1.9"/>
<circle cx="1601.4" cy="1208.1" r="1.9"/>
<circle cx="1603.0" cy="1210.1" r="1.9"/>
<circle cx="1603.6" cy="1192.8" r="1.9"/>
<circle cx="1605.1" cy="1197.3" r="1.9"/>
<circle cx="1605.5" cy="1201.5" r="1.9"/>
<circle cx="1606.4" cy="1203.9" r="1.9"/>
<circle cx="1605.1" cy="1206.4" r="1.9"/>
<circle cx="1608.0" cy="1209.7" r="1.9"/>
<circle cx="1607.2" cy="1202.3" r="1.9"/>
<circle cx="1609.7" cy="1194.4" r="1.9"/>
<circle cx="1610.5" cy="1192.8" r="1.9"/>
<circle cx="1611.7" cy="1198.1" r="1.9"/>
<circle cx="1613.8" cy="1197.3" r="1.9"/>
<circle cx="1613.0" cy="1203.1" r="1.9"/>
<circle cx="1613.8" cy="1206.4" r="1.9"/>
<circle cx="1614.2" cy="1209.7" r="1.9"/>
<circle cx="1615.9" cy="1191.9" r="1.9"/>
<circle cx="1616.3" cy="1198.6" r="1.9"/>
<circle cx="1617.1" cy="1202.3" r="1.9"/>
<circle cx="1617.9" cy="1205.6" r="1.9"/>
<circle cx="1617.1" cy="1208.9" r="1.9"/>
<circle cx="1618.8" cy="1211.8" r="1.9"/>
<circle cx="1619.8" cy="1189.6" r="1.9"/>
<circle cx="1620.8" cy="1209.7" r="1.9"/>
<circle cx="1621.3" cy="1201.5" r="1.9"/>
<circle cx="1622.5" cy="1198.4" r="1.9"/>
<circle cx="1622.1" cy="1204.8" r="1.9"/>
<circle cx="1623.3" cy="1193.2" r="1.9"/>
<circle cx="1624.6" cy="1206.4" r="1.9"/>
<circle cx="1626.2" cy="1192.4" r="1.9"/>
<circle cx="1627.7" cy="1189.9" r="1.9"/>
<circle cx="1630.0" cy="1191.3" r="1.9"/>
<circle cx="1628.7" cy="1199.0" r="1.9"/>
<circle cx="1631.6" cy="1198.7" r="1.9"/>
<circle cx="1628.3" cy="1205.2" r="1.9"/>
<circle cx="1628.5" cy="1208.2" r="1.9"/>
<circle cx="1635.2" cy="1201.6" r="1.9"/>
<circle cx="1639.1" cy="1196.5" r="1.9"/>
<circle cx="1632.4" cy="1211.8" r="1.9"/>
<circle cx="1636.6" cy="1209.1" r="1.9"/>
<circle cx="1637.2" cy="1211.0" r="1.9"/>
<circle cx="1650.5" cy="1199.0" r="1.9"/>
<circle cx="1651.1" cy="1211.2" r="1.9"/>
<circle cx="1603.9" cy="1203.1" r="1.9"/>
<circle cx="1605.9" cy="1205.2" r="1.9"/>
<circle cx="1607.6" cy="1206.4" r="1.9"/>
<circle cx="1606.8" cy="1200.6" r="1.9"/>
<circle cx="1608.8" cy="1203.9" r="1.9"/>
<circle cx="1610.5" cy="1199.8" r="1.9"/>
<circle cx="1612.2" cy="1204.8" r="1.9"/>
<circle cx="1614.6" cy="1201.5" r="1.9"/>
<circle cx="1619.6" cy="1203.1" r="1.9"/>
<circle cx="1619.2" cy="1207.3" r="1.9"/>
<circle cx="1615.5" cy="1204.8" r="1.9"/>
<circle cx="1482.8" cy="1326.4" r="1.9"/>
<circle cx="1491.5" cy="1325.4" r="1.9"/>
<circle cx="1492.9" cy="1320.3" r="1.9"/>
<circle cx="1494.2" cy="1332.0" r="1.9"/>
<circle cx="1500.9" cy="1333.8" r="1.9"/>
<circle cx="1504.1" cy="1317.2" r="1.9"/>
<circle cx="1506.2" cy="1314.4" r="1.9"/>
<circle cx="1511.4" cy="1323.3" r="1.9"/>
<circle cx="1514.1" cy="1316.8" r="1.9"/>
<circle cx="1517.6" cy="1316.8" r="1.9"/>
<circle cx="1516.9" cy="1322.8" r="1.9"/>
<circle cx="1514.1" cy="1326.8" r="1.9"/>
<circle cx="1518.4" cy="1326.1" r="1.9"/>
<circle cx="1516.2" cy="1332.6" r="1.9"/>
<circle cx="1522.2" cy="1312.9" r="1.9"/>
<circle cx="1523.0" cy="1319.7" r="1.9"/>
<circle cx="1524.2" cy="1324.9" r="1.9"/>
<circle cx="1523.4" cy="1328.4" r="1.9"/>
<circle cx="1527.0" cy="1313.7" r="1.9"/>
<circle cx="1528.2" cy="1317.9" r="1.9"/>
<circle cx="1527.0" cy="1329.9" r="1.9"/>
<circle cx="1530.2" cy="1325.3" r="1.9"/>
<circle cx="1530.0" cy="1333.0" r="1.9"/>
<circle cx="1532.1" cy="1332.7" r="1.9"/>
<circle cx="1532.9" cy="1311.5" r="1.9"/>
<circle cx="1535.0" cy="1311.9" r="1.9"/>
<circle cx="1534.8" cy="1318.5" r="1.9"/>
<circle cx="1536.2" cy="1323.0" r="1.9"/>
<circle cx="1536.5" cy="1332.1" r="1.9"/>
<circle cx="1538.5" cy="1315.3" r="1.9"/>
<circle cx="1540.4" cy="1332.0" r="1.9"/>
<circle cx="1541.6" cy="1323.5" r="1.9"/>
<circle cx="1542.8" cy="1316.8" r="1.9"/>
<circle cx="1543.5" cy="1315.0" r="1.9"/>
<circle cx="1542.8" cy="1326.8" r="1.9"/>
<circle cx="1544.9" cy="1319.3" r="1.9"/>
<circle cx="1547.0" cy="1315.6" r="1.9"/>
<circle cx="1547.4" cy="1322.6" r="1.9"/>
<circle cx="1549.5" cy="1326.8" r="1.9"/>
<circle cx="1550.3" cy="1314.8" r="1.9"/>
<circle cx="1550.7" cy="1329.3" r="1.9"/>
<circle cx="1551.5" cy="1322.6" r="1.9"/>
<circle cx="1551.1" cy="1334.6" r="1.9"/>
<circle cx="1554.3" cy="1310.9" r="1.9"/>
<circle cx="1554.4" cy="1318.5" r="1.9"/>
<circle cx="1555.3" cy="1322.6" r="1.9"/>
<circle cx="1554.9" cy="1330.2" r="1.9"/>
<circle cx="1559.0" cy="1319.9" r="1.9"/>
<circle cx="1559.8" cy="1324.9" r="1.9"/>
<circle cx="1558.4" cy="1333.8" r="1.9"/>
<circle cx="1562.3" cy="1313.8" r="1.9"/>
<circle cx="1566.3" cy="1312.4" r="1.9"/>
<circle cx="1567.0" cy="1315.6" r="1.9"/>
<circle cx="1568.9" cy="1322.2" r="1.9"/>
<circle cx="1568.1" cy="1325.9" r="1.9"/>
<circle cx="1571.7" cy="1312.4" r="1.9"/>
<circle cx="1573.1" cy="1315.4" r="1.9"/>
<circle cx="1571.0" cy="1321.4" r="1.9"/>
<circle cx="1574.1" cy="1321.6" r="1.9"/>
<circle cx="1571.8" cy="1332.1" r="1.9"/>
<circle cx="1573.9" cy="1330.1" r="1.9"/>
<circle cx="1578.0" cy="1313.1" r="1.9"/>
<circle cx="1578.4" cy="1318.3" r="1.9"/>
<circle cx="1578.0" cy="1324.3" r="1.9"/>
<circle cx="1576.5" cy="1326.4" r="1.9"/>
<circle cx="1580.5" cy="1326.2" r="1.9"/>
<circle cx="1583.7" cy="1325.8" r="1.9"/>
<circle cx="1584.4" cy="1311.5" r="1.9"/>
<circle cx="1581.6" cy="1334.9" r="1.9"/>
<circle cx="1584.4" cy="1332.0" r="1.9"/>
<circle cx="1587.7" cy="1317.2" r="1.9"/>
<circle cx="1589.0" cy="1329.3" r="1.9"/>
<circle cx="1592.9" cy="1313.1" r="1.9"/>
<circle cx="1595.7" cy="1311.9" r="1.9"/>
<circle cx="1593.8" cy="1327.8" r="1.9"/>
<circle cx="1595.0" cy="1330.1" r="1.9"/>
<circle cx="1599.1" cy="1314.6" r="1.9"/>
<circle cx="1598.3" cy="1318.5" r="1.9"/>
<circle cx="1598.5" cy="1323.6" r="1.9"/>
</g>
<g fill="#000000" fill-opacity="0.72">
<circle cx="1628.4" cy="1080.6" r="2.05"/>
<circle cx="1637.7" cy="1068.4" r="2.05"/>
<circle cx="1645.8" cy="1070.5" r="2.05"/>
<circle cx="1648.5" cy="1071.9" r="2.05"/>
<circle cx="1646.8" cy="1075.2" r="2.05"/>
<circle cx="1650.6" cy="1075.7" r="2.05"/>
<circle cx="1651.8" cy="1077.5" r="2.05"/>
<circle cx="1659.5" cy="1074.7" r="2.05"/>
<circle cx="1666.5" cy="1074.4" r="2.05"/>
<circle cx="1672.9" cy="1074.2" r="2.05"/>
<circle cx="1671.7" cy="1076.3" r="2.05"/>
<circle cx="1673.7" cy="1068.2" r="2.05"/>
<circle cx="1663.8" cy="1077.7" r="2.05"/>
<circle cx="1667.9" cy="1079.8" r="2.05"/>
<circle cx="1663.8" cy="1081.0" r="2.05"/>
<circle cx="1646.8" cy="1082.7" r="2.05"/>
<circle cx="1648.5" cy="1081.9" r="2.05"/>
<circle cx="1653.9" cy="1084.9" r="2.05"/>
<circle cx="1659.3" cy="1085.2" r="2.05"/>
<circle cx="1665.5" cy="1084.4" r="2.05"/>
<circle cx="1668.8" cy="1085.2" r="2.05"/>
<circle cx="1643.1" cy="1087.7" r="2.05"/>
<circle cx="1645.8" cy="1087.1" r="2.05"/>
<circle cx="1649.7" cy="1087.7" r="2.05"/>
<circle cx="1654.3" cy="1088.9" r="2.05"/>
<circle cx="1661.3" cy="1088.1" r="2.05"/>
<circle cx="1664.2" cy="1088.9" r="2.05"/>
<circle cx="1667.9" cy="1090.6" r="2.05"/>
<circle cx="1643.5" cy="1091.4" r="2.05"/>
<circle cx="1646.4" cy="1091.4" r="2.05"/>
<circle cx="1651.4" cy="1091.6" r="2.05"/>
<circle cx="1656.5" cy="1091.1" r="2.05"/>
<circle cx="1665.0" cy="1092.2" r="2.05"/>
<circle cx="1669.2" cy="1091.0" r="2.05"/>
<circle cx="1675.2" cy="1092.2" r="2.05"/>
<circle cx="1681.4" cy="1068.2" r="2.05"/>
<circle cx="1684.9" cy="1067.8" r="2.05"/>
<circle cx="1685.3" cy="1069.9" r="2.05"/>
<circle cx="1681.6" cy="1071.9" r="2.05"/>
<circle cx="1689.9" cy="1069.9" r="2.05"/>
<circle cx="1694.0" cy="1071.9" r="2.05"/>
<circle cx="1696.5" cy="1074.0" r="2.05"/>
<circle cx="1697.7" cy="1072.4" r="2.05"/>
<circle cx="1700.6" cy="1068.6" r="2.05"/>
<circle cx="1701.1" cy="1074.0" r="2.05"/>
<circle cx="1704.8" cy="1071.4" r="2.05"/>
<circle cx="1709.3" cy="1069.7" r="2.05"/>
<circle cx="1715.3" cy="1071.5" r="2.05"/>
<circle cx="1678.9" cy="1076.3" r="2.05"/>
<circle cx="1696.5" cy="1076.3" r="2.05"/>
<circle cx="1699.8" cy="1078.1" r="2.05"/>
<circle cx="1706.0" cy="1075.8" r="2.05"/>
<circle cx="1706.4" cy="1078.6" r="2.05"/>
<circle cx="1708.9" cy="1079.8" r="2.05"/>
<circle cx="1710.2" cy="1081.5" r="2.05"/>
<circle cx="1717.4" cy="1077.9" r="2.05"/>
<circle cx="1723.2" cy="1080.8" r="2.05"/>
<circle cx="1724.0" cy="1083.5" r="2.05"/>
<circle cx="1738.7" cy="1078.4" r="2.05"/>
<circle cx="1733.9" cy="1087.4" r="2.05"/>
<circle cx="1679.5" cy="1080.6" r="2.05"/>
<circle cx="1683.3" cy="1080.0" r="2.05"/>
<circle cx="1684.1" cy="1082.7" r="2.05"/>
<circle cx="1692.6" cy="1080.0" r="2.05"/>
<circle cx="1692.6" cy="1081.3" r="2.05"/>
<circle cx="1697.3" cy="1083.8" r="2.05"/>
<circle cx="1689.9" cy="1084.9" r="2.05"/>
<circle cx="1686.2" cy="1085.8" r="2.05"/>
<circle cx="1687.8" cy="1086.0" r="2.05"/>
<circle cx="1680.5" cy="1085.6" r="2.05"/>
<circle cx="1680.4" cy="1088.1" r="2.05"/>
<circle cx="1692.8" cy="1087.7" r="2.05"/>
<circle cx="1694.0" cy="1086.4" r="2.05"/>
<circle cx="1696.5" cy="1088.2" r="2.05"/>
<circle cx="1700.6" cy="1086.2" r="2.05"/>
<circle cx="1710.6" cy="1086.6" r="2.05"/>
<circle cx="1715.3" cy="1086.2" r="2.05"/>
<circle cx="1700.0" cy="1090.7" r="2.05"/>
<circle cx="1684.5" cy="1091.8" r="2.05"/>
<circle cx="1688.5" cy="1091.2" r="2.05"/>
<circle cx="1575.7" cy="1213.2" r="2.05"/>
<circle cx="1580.4" cy="1211.6" r="2.05"/>
<circle cx="1583.0" cy="1202.3" r="2.05"/>
<circle cx="1584.3" cy="1190.9" r="2.05"/>
<circle cx="1585.7" cy="1208.5" r="2.05"/>
<circle cx="1587.1" cy="1196.7" r="2.05"/>
<circle cx="1588.6" cy="1191.9" r="2.05"/>
<circle cx="1590.2" cy="1189.9" r="2.05"/>
<circle cx="1589.0" cy="1199.0" r="2.05"/>
<circle cx="1590.2" cy="1202.7" r="2.05"/>
<circle cx="1591.9" cy="1206.0" r="2.05"/>
<circle cx="1593.5" cy="1194.4" r="2.05"/>
<circle cx="1594.8" cy="1206.8" r="2.05"/>
<circle cx="1588.6" cy="1212.6" r="2.05"/>
<circle cx="1591.5" cy="1211.8" r="2.05"/>
<circle cx="1596.4" cy="1211.8" r="2.05"/>
<circle cx="1594.8" cy="1200.6" r="2.05"/>
<circle cx="1597.7" cy="1202.7" r="2.05"/>
<circle cx="1598.9" cy="1196.5" r="2.05"/>
<circle cx="1599.7" cy="1190.9" r="2.05"/>
<circle cx="1600.1" cy="1193.6" r="2.05"/>
<circle cx="1599.3" cy="1199.0" r="2.05"/>
<circle cx="1601.4" cy="1201.5" r="2.05"/>
<circle cx="1601.4" cy="1208.1" r="2.05"/>
<circle cx="1603.0" cy="1210.1" r="2.05"/>
<circle cx="1603.6" cy="1192.8" r="2.05"/>
<circle cx="1605.1" cy="1197.3" r="2.05"/>
<circle cx="1605.5" cy="1201.5" r="2.05"/>
<circle cx="1606.4" cy="1203.9" r="2.05"/>
<circle cx="1605.1" cy="1206.4" r="2.05"/>
<circle cx="1608.0" cy="1209.7" r="2.05"/>
<circle cx="1607.2" cy="1202.3" r="2.05"/>
<circle cx="1609.7" cy="1194.4" r="2.05"/>
<circle cx="1610.5" cy="1192.8" r="2.05"/>
<circle cx="1611.7" cy="1198.1" r="2.05"/>
<circle cx="1613.8" cy="1197.3" r="2.05"/>
<circle cx="1613.0" cy="1203.1" r="2.05"/>
<circle cx="1613.8" cy="1206.4" r="2.05"/>
<circle cx="1614.2" cy="1209.7" r="2.05"/>
<circle cx="1615.9" cy="1191.9" r="2.05"/>
<circle cx="1616.3" cy="1198.6" r="2.05"/>
<circle cx="1617.1" cy="1202.3" r="2.05"/>
<circle cx="1617.9" cy="1205.6" r="2.05"/>
<circle cx="1617.1" cy="1208.9" r="2.05"/>
<circle cx="1618.8" cy="1211.8" r="2.05"/>
<circle cx="1619.8" cy="1189.6" r="2.05"/>
<circle cx="1620.8" cy="1209.7" r="2.05"/>
<circle cx="1621.3" cy="1201.5" r="2.05"/>
<circle cx="1622.5" cy="1198.4" r="2.05"/>
<circle cx="1622.1" cy="1204.8" r="2.05"/>
<circle cx="1623.3" cy="1193.2" r="2.05"/>
<circle cx="1624.6" cy="1206.4" r="2.05"/>
<circle cx="1626.2" cy="1192.4" r="2.05"/>
<circle cx="1627.7" cy="1189.9" r="2.05"/>
<circle cx="1630.0" cy="1191.3" r="2.05"/>
<circle cx="1628.7" cy="1199.0" r="2.05"/>
<circle cx="1631.6" cy="1198.7" r="2.05"/>
<circle cx="1628.3" cy="1205.2" r="2.05"/>
<circle cx="1628.5" cy="1208.2" r="2.05"/>
<circle cx="1635.2" cy="1201.6" r="2.05"/>
<circle cx="1639.1" cy="1196.5" r="2.05"/>
<circle cx="1632.4" cy="1211.8" r="2.05"/>
<circle cx="1636.6" cy="1209.1" r="2.05"/>
<circle cx="1637.2" cy="1211.0" r="2.05"/>
<circle cx="1650.5" cy="1199.0" r="2.05"/>
<circle cx="1651.1" cy="1211.2" r="2.05"/>
<circle cx="1603.9" cy="1203.1" r="2.05"/>
<circle cx="1605.9" cy="1205.2" r="2.05"/>
<circle cx="1607.6" cy="1206.4" r="2.05"/>
<circle cx="1606.8" cy="1200.6" r="2.05"/>
<circle cx="1608.8" cy="1203.9" r="2.05"/>
<circle cx="1610.5" cy="1199.8" r="2.05"/>
<circle cx="1612.2" cy="1204.8" r="2.05"/>
<circle cx="1614.6" cy="1201.5" r="2.05"/>
<circle cx="1619.6" cy="1203.1" r="2.05"/>
<circle cx="1619.2" cy="1207.3" r="2.05"/>
<circle cx="1615.5" cy="1204.8" r="2.05"/>
<circle cx="1482.8" cy="1326.4" r="2.05"/>
<circle cx="1491.5" cy="1325.4" r="2.05"/>
<circle cx="1492.9" cy="1320.3" r="2.05"/>
<circle cx="1494.2" cy="1332.0" r="2.05"/>
<circle cx="1500.9" cy="1333.8" r="2.05"/>
<circle cx="1504.1" cy="1317.2" r="2.05"/>
<circle cx="1506.2" cy="1314.4" r="2.05"/>
<circle cx="1511.4" cy="1323.3" r="2.05"/>
<circle cx="1514.1" cy="1316.8" r="2.05"/>
<circle cx="1517.6" cy="1316.8" r="2.05"/>
<circle cx="1516.9" cy="1322.8" r="2.05"/>
<circle cx="1514.1" cy="1326.8" r="2.05"/>
<circle cx="1518.4" cy="1326.1" r="2.05"/>
<circle cx="1516.2" cy="1332.6" r="2.05"/>
<circle cx="1522.2" cy="1312.9" r="2.05"/>
<circle cx="1523.0" cy="1319.7" r="2.05"/>
<circle cx="1524.2" cy="1324.9" r="2.05"/>
<circle cx="1523.4" cy="1328.4" r="2.05"/>
<circle cx="1527.0" cy="1313.7" r="2.05"/>
<circle cx="1528.2" cy="1317.9" r="2.05"/>
<circle cx="1527.0" cy="1329.9" r="2.05"/>
<circle cx="1530.2" cy="1325.3" r="2.05"/>
<circle cx="1530.0" cy="1333.0" r="2.05"/>
<circle cx="1532.1" cy="1332.7" r="2.05"/>
<circle cx="1532.9" cy="1311.5" r="2.05"/>
<circle cx="1535.0" cy="1311.9" r="2.05"/>
<circle cx="1534.8" cy="1318.5" r="2.05"/>
<circle cx="1536.2" cy="1323.0" r="2.05"/>
<circle cx="1536.5" cy="1332.1" r="2.05"/>
<circle cx="1538.5" cy="1315.3" r="2.05"/>
<circle cx="1540.4" cy="1332.0" r="2.05"/>
<circle cx="1541.6" cy="1323.5" r="2.05"/>
<circle cx="1542.8" cy="1316.8" r="2.05"/>
<circle cx="1543.5" cy="1315.0" r="2.05"/>
<circle cx="1542.8" cy="1326.8" r="2.05"/>
<circle cx="1544.9" cy="1319.3" r="2.05"/>
<circle cx="1547.0" cy="1315.6" r="2.05"/>
<circle cx="1547.4" cy="1322.6" r="2.05"/>
<circle cx="1549.5" cy="1326.8" r="2.05"/>
<circle cx="1550.3" cy="1314.8" r="2.05"/>
<circle cx="1550.7" cy="1329.3" r="2.05"/>
<circle cx="1551.5" cy="1322.6" r="2.05"/>
<circle cx="1551.1" cy="1334.6" r="2.05"/>
<circle cx="1554.3" cy="1310.9" r="2.05"/>
<circle cx="1554.4" cy="1318.5" r="2.05"/>
<circle cx="1555.3" cy="1322.6" r="2.05"/>
<circle cx="1554.9" cy="1330.2" r="2.05"/>
<circle cx="1559.0" cy="1319.9" r="2.05"/>
<circle cx="1559.8" cy="1324.9" r="2.05"/>
<circle cx="1558.4" cy="1333.8" r="2.05"/>
<circle cx="1562.3" cy="1313.8" r="2.05"/>
<circle cx="1566.3" cy="1312.4" r="2.05"/>
<circle cx="1567.0" cy="1315.6" r="2.05"/>
<circle cx="1568.9" cy="1322.2" r="2.05"/>
<circle cx="1568.1" cy="1325.9" r="2.05"/>
<circle cx="1571.7" cy="1312.4" r="2.05"/>
<circle cx="1573.1" cy="1315.4" r="2.05"/>
<circle cx="1571.0" cy="1321.4" r="2.05"/>
<circle cx="1574.1" cy="1321.6" r="2.05"/>
<circle cx="1571.8" cy="1332.1" r="2.05"/>
<circle cx="1573.9" cy="1330.1" r="2.05"/>
<circle cx="1578.0" cy="1313.1" r="2.05"/>
<circle cx="1578.4" cy="1318.3" r="2.05"/>
<circle cx="1578.0" cy="1324.3" r="2.05"/>
<circle cx="1576.5" cy="1326.4" r="2.05"/>
<circle cx="1580.5" cy="1326.2" r="2.05"/>
<circle cx="1583.7" cy="1325.8" r="2.05"/>
<circle cx="1584.4" cy="1311.5" r="2.05"/>
<circle cx="1581.6" cy="1334.9" r="2.05"/>
<circle cx="1584.4" cy="1332.0" r="2.05"/>
<circle cx="1587.7" cy="1317.2" r="2.05"/>
<circle cx="1589.0" cy="1329.3" r="2.05"/>
<circle cx="1592.9" cy="1313.1" r="2.05"/>
<circle cx="1595.7" cy="1311.9" r="2.05"/>
<circle cx="1593.8" cy="1327.8" r="2.05"/>
<circle cx="1595.0" cy="1330.1" r="2.05"/>
<circle cx="1599.1" cy="1314.6" r="2.05"/>
<circle cx="1598.3" cy="1318.5" r="2.05"/>
<circle cx="1598.5" cy="1323.6" r="2.05"/>
</g>
<line x1="1390.00" y1="1018.60" x2="1390.00" y2="1384.60" stroke="#231f20" stroke-width="2.4"/>
<line x1="1388.80" y1="1383.40" x2="1757.20" y2="1383.40" stroke="#231f20" stroke-width="2.4"/>
<line x1="1377.40" y1="1079.80" x2="1390.00" y2="1079.80" stroke="#231f20" stroke-width="2.4"/>
<text x="1364.30" y="1088.10" font-size="21.72" text-anchor="end" fill="#231f20">LDH</text>
<line x1="1377.40" y1="1201.30" x2="1390.00" y2="1201.30" stroke="#231f20" stroke-width="2.4"/>
<text x="1364.30" y="1209.60" font-size="21.72" text-anchor="end" fill="#231f20">PA</text>
<line x1="1377.40" y1="1322.30" x2="1390.00" y2="1322.30" stroke="#231f20" stroke-width="2.4"/>
<text x="1364.30" y="1330.60" font-size="21.72" text-anchor="end" fill="#231f20">APOC3</text>
<line x1="1390.00" y1="1383.40" x2="1390.00" y2="1395.80" stroke="#231f20" stroke-width="2.4"/>
<text x="1390.00" y="1425.20" font-size="21.72" text-anchor="middle" fill="#231f20">0.0</text>
<line x1="1456.80" y1="1383.40" x2="1456.80" y2="1395.80" stroke="#231f20" stroke-width="2.4"/>
<text x="1456.80" y="1425.20" font-size="21.72" text-anchor="middle" fill="#231f20">0.1</text>
<line x1="1523.60" y1="1383.40" x2="1523.60" y2="1395.80" stroke="#231f20" stroke-width="2.4"/>
<text x="1523.60" y="1425.20" font-size="21.72" text-anchor="middle" fill="#231f20">0.2</text>
<line x1="1590.40" y1="1383.40" x2="1590.40" y2="1395.80" stroke="#231f20" stroke-width="2.4"/>
<text x="1590.40" y="1425.20" font-size="21.72" text-anchor="middle" fill="#231f20">0.3</text>
<line x1="1657.20" y1="1383.40" x2="1657.20" y2="1395.80" stroke="#231f20" stroke-width="2.4"/>
<text x="1657.20" y="1425.20" font-size="21.72" text-anchor="middle" fill="#231f20">0.4</text>
<line x1="1724.00" y1="1383.40" x2="1724.00" y2="1395.80" stroke="#231f20" stroke-width="2.4"/>
<text x="1724.00" y="1425.20" font-size="21.72" text-anchor="middle" fill="#231f20">0.5</text>
<text x="1572.80" y="1461.80" font-size="25.38" text-anchor="middle" fill="#231f20">Feature importance</text>
<text transform="translate(1271.20,1201.00) rotate(-90)" font-size="25.38" text-anchor="middle" fill="#231f20">Features</text>
</g>
<g id="panelD">
<text transform="translate(2.60,1609.20) scale(1,1.041)" font-size="43.80" fill="#000">D</text>
<text x="363.50" y="1662.00" font-size="25.38" text-anchor="middle" fill="#231f20">LDH+PA+APOC3</text>
<rect x="185.8" y="1698.2" width="178.5" height="178.7" fill="#c9222b"/>
<rect x="368.9" y="1698.2" width="178.6" height="178.7" fill="#ead6d7"/>
<rect x="185.8" y="1881.1" width="178.5" height="178.8" fill="#ece7e6"/>
<rect x="368.9" y="1881.1" width="178.6" height="178.8" fill="#e8b7ba"/>
<text x="272.30" y="1797.30" font-size="29.50" text-anchor="middle" fill="#ffffff">40</text>
<text x="457.20" y="1797.30" font-size="29.50" text-anchor="middle" fill="#4b4b4d">5</text>
<text x="273.80" y="1977.50" font-size="29.50" text-anchor="middle" fill="#4b4b4d">0</text>
<text x="457.20" y="1977.50" font-size="29.50" text-anchor="middle" fill="#4b4b4d">8</text>
<line x1="164.00" y1="1787.60" x2="182.40" y2="1787.60" stroke="#231f20" stroke-width="2.05"/>
<line x1="164.00" y1="1970.10" x2="182.40" y2="1970.10" stroke="#231f20" stroke-width="2.05"/>
<line x1="275.40" y1="2064.60" x2="275.40" y2="2081.70" stroke="#231f20" stroke-width="2.05"/>
<line x1="458.50" y1="2064.60" x2="458.50" y2="2081.70" stroke="#231f20" stroke-width="2.05"/>
<text transform="translate(137.00,1800.00) rotate(-90)" font-size="21.72" text-anchor="middle" fill="#231f20">DNP</text>
<text transform="translate(137.00,1977.80) rotate(-90)" font-size="21.72" text-anchor="middle" fill="#231f20">DP</text>
<text x="262.10" y="2125.80" font-size="21.72" text-anchor="middle" fill="#231f20">DNP</text>
<text x="449.40" y="2125.80" font-size="21.72" text-anchor="middle" fill="#231f20">DP</text>
<text x="367.00" y="2185.20" font-size="25.38" text-anchor="middle" fill="#231f20">Predict label</text>
<text transform="translate(81.90,1878.50) rotate(-90)" font-size="25.38" text-anchor="middle" fill="#231f20">True label</text>
</g>
<g id="panelE">
<text transform="translate(625.50,1610.80) scale(1,1.041)" font-size="43.80" fill="#000">E</text>
<text x="1208.30" y="1660.40" font-size="25.38" text-anchor="middle" fill="#231f20">Independent validation cohort</text>
<rect x="817.40" y="1886.74" width="14.64" height="259.26" fill="#a1c3d3"/>
<rect x="831.89" y="1843.28" width="14.64" height="302.72" fill="#3f7499"/>
<rect x="846.38" y="1956.50" width="14.64" height="189.50" fill="#a9cb94"/>
<rect x="860.87" y="1860.38" width="14.64" height="285.62" fill="#4f8f45"/>
<rect x="875.36" y="1843.28" width="14.64" height="302.72" fill="#e89ca1"/>
<rect x="889.85" y="1854.53" width="14.64" height="291.47" fill="#c0393f"/>
<rect x="904.34" y="1775.54" width="14.64" height="370.46" fill="#e3b083"/>
<rect x="918.83" y="1789.31" width="14.64" height="356.69" fill="#d57b37"/>
<rect x="933.32" y="1783.78" width="14.64" height="362.22" fill="#bbabc9"/>
<rect x="980.25" y="1839.87" width="14.64" height="306.13" fill="#a1c3d3"/>
<rect x="994.74" y="1879.90" width="14.64" height="266.10" fill="#3f7499"/>
<rect x="1009.23" y="2007.91" width="14.64" height="138.09" fill="#a9cb94"/>
<rect x="1023.72" y="1859.03" width="14.64" height="286.97" fill="#4f8f45"/>
<rect x="1038.21" y="1879.90" width="14.64" height="266.10" fill="#e89ca1"/>
<rect x="1052.70" y="1873.42" width="14.64" height="272.58" fill="#c0393f"/>
<rect x="1067.19" y="1784.09" width="14.64" height="361.91" fill="#e3b083"/>
<rect x="1081.68" y="1772.22" width="14.64" height="373.78" fill="#d57b37"/>
<rect x="1096.17" y="1780.00" width="14.64" height="366.00" fill="#bbabc9"/>
<rect x="1143.10" y="1703.04" width="14.64" height="442.96" fill="#a1c3d3"/>
<rect x="1157.59" y="1761.87" width="14.64" height="384.13" fill="#3f7499"/>
<rect x="1172.08" y="1808.07" width="14.64" height="337.93" fill="#a9cb94"/>
<rect x="1186.57" y="1761.87" width="14.64" height="384.13" fill="#4f8f45"/>
<rect x="1201.06" y="1761.87" width="14.64" height="384.13" fill="#e89ca1"/>
<rect x="1215.55" y="1761.87" width="14.64" height="384.13" fill="#c0393f"/>
<rect x="1230.04" y="1729.71" width="14.64" height="416.29" fill="#e3b083"/>
<rect x="1244.53" y="1729.71" width="14.64" height="416.29" fill="#d57b37"/>
<rect x="1259.02" y="1729.71" width="14.64" height="416.29" fill="#bbabc9"/>
<rect x="1305.95" y="1726.65" width="14.64" height="419.35" fill="#a1c3d3"/>
<rect x="1320.44" y="1748.87" width="14.64" height="397.13" fill="#3f7499"/>
<rect x="1334.93" y="1830.65" width="14.64" height="315.35" fill="#a9cb94"/>
<rect x="1349.42" y="1794.71" width="14.64" height="351.29" fill="#4f8f45"/>
<rect x="1363.91" y="1748.87" width="14.64" height="397.13" fill="#e89ca1"/>
<rect x="1378.40" y="1778.96" width="14.64" height="367.04" fill="#c0393f"/>
<rect x="1392.89" y="1733.53" width="14.64" height="412.47" fill="#e3b083"/>
<rect x="1407.38" y="1746.80" width="14.64" height="399.20" fill="#d57b37"/>
<rect x="1421.87" y="1742.71" width="14.64" height="403.29" fill="#bbabc9"/>
<rect x="1468.80" y="1712.98" width="14.64" height="433.02" fill="#a1c3d3"/>
<rect x="1483.29" y="1720.85" width="14.64" height="425.15" fill="#3f7499"/>
<rect x="1497.78" y="1802.94" width="14.64" height="343.06" fill="#a9cb94"/>
<rect x="1512.27" y="1782.11" width="14.64" height="363.89" fill="#4f8f45"/>
<rect x="1526.76" y="1720.85" width="14.64" height="425.15" fill="#e89ca1"/>
<rect x="1541.25" y="1762.55" width="14.64" height="383.45" fill="#c0393f"/>
<rect x="1555.74" y="1721.84" width="14.64" height="424.16" fill="#e3b083"/>
<rect x="1570.23" y="1738.26" width="14.64" height="407.74" fill="#d57b37"/>
<rect x="1584.72" y="1734.52" width="14.64" height="411.48" fill="#bbabc9"/>
<line x1="801.30" y1="1680.30" x2="801.30" y2="2147.20" stroke="#231f20" stroke-width="2.4"/>
<line x1="788.70" y1="2146.00" x2="1615.60" y2="2146.00" stroke="#231f20" stroke-width="2.4"/>
<line x1="788.70" y1="2146.00" x2="801.30" y2="2146.00" stroke="#231f20" stroke-width="2.4"/>
<text x="775.20" y="2153.70" font-size="21.72" text-anchor="end" fill="#231f20">0.0</text>
<line x1="788.70" y1="2056.04" x2="801.30" y2="2056.04" stroke="#231f20" stroke-width="2.4"/>
<text x="775.20" y="2063.74" font-size="21.72" text-anchor="end" fill="#231f20">0.2</text>
<line x1="788.70" y1="1966.08" x2="801.30" y2="1966.08" stroke="#231f20" stroke-width="2.4"/>
<text x="775.20" y="1973.78" font-size="21.72" text-anchor="end" fill="#231f20">0.4</text>
<line x1="788.70" y1="1876.12" x2="801.30" y2="1876.12" stroke="#231f20" stroke-width="2.4"/>
<text x="775.20" y="1883.82" font-size="21.72" text-anchor="end" fill="#231f20">0.6</text>
<line x1="788.70" y1="1786.16" x2="801.30" y2="1786.16" stroke="#231f20" stroke-width="2.4"/>
<text x="775.20" y="1793.86" font-size="21.72" text-anchor="end" fill="#231f20">0.8</text>
<line x1="788.70" y1="1696.20" x2="801.30" y2="1696.20" stroke="#231f20" stroke-width="2.4"/>
<text x="775.20" y="1703.90" font-size="21.72" text-anchor="end" fill="#231f20">1.0</text>
<line x1="882.70" y1="2146.00" x2="882.70" y2="2158.40" stroke="#231f20" stroke-width="2.4"/>
<text x="882.70" y="2186.70" font-size="21.72" text-anchor="middle" fill="#231f20">APOC3</text>
<line x1="1045.55" y1="2146.00" x2="1045.55" y2="2158.40" stroke="#231f20" stroke-width="2.4"/>
<text x="1045.55" y="2186.70" font-size="21.72" text-anchor="middle" fill="#231f20">LDH</text>
<line x1="1208.40" y1="2146.00" x2="1208.40" y2="2158.40" stroke="#231f20" stroke-width="2.4"/>
<text x="1208.40" y="2186.70" font-size="21.72" text-anchor="middle" fill="#231f20">PA</text>
<line x1="1371.25" y1="2146.00" x2="1371.25" y2="2158.40" stroke="#231f20" stroke-width="2.4"/>
<text x="1371.25" y="2186.70" font-size="21.72" text-anchor="middle" fill="#231f20">LDH+PA</text>
<line x1="1534.10" y1="2146.00" x2="1534.10" y2="2158.40" stroke="#231f20" stroke-width="2.4"/>
<text x="1534.10" y="2186.70" font-size="21.72" text-anchor="middle" fill="#231f20">LDH+PA+APOC3</text>
<text x="1208.20" y="2224.60" font-size="25.38" text-anchor="middle" fill="#231f20">Feature combinations</text>
<text transform="translate(725.40,1913.30) rotate(-90)" font-size="25.38" text-anchor="middle" fill="#231f20">Scores</text>
<rect x="1675" y="1779.30" width="44.2" height="15.4" fill="#a1c3d3"/>
<text x="1737.60" y="1794.70" font-size="21.72" text-anchor="start" fill="#231f20">AUROC</text>
<rect x="1675" y="1810.47" width="44.2" height="15.4" fill="#3f7499"/>
<text x="1737.60" y="1825.87" font-size="21.72" text-anchor="start" fill="#231f20">Balanced accuracy</text>
<rect x="1675" y="1841.64" width="44.2" height="15.4" fill="#a9cb94"/>
<text x="1737.60" y="1857.04" font-size="21.72" text-anchor="start" fill="#231f20">F1</text>
<rect x="1675" y="1872.81" width="44.2" height="15.4" fill="#4f8f45"/>
<text x="1737.60" y="1888.21" font-size="21.72" text-anchor="start" fill="#231f20">Macro avg-precision</text>
<rect x="1675" y="1903.98" width="44.2" height="15.4" fill="#e89ca1"/>
<text x="1737.60" y="1919.38" font-size="21.72" text-anchor="start" fill="#231f20">Macro avg-recall</text>
<rect x="1675" y="1935.15" width="44.2" height="15.4" fill="#c0393f"/>
<text x="1737.60" y="1950.55" font-size="21.72" text-anchor="start" fill="#231f20">Macro avg-f1-score</text>
<rect x="1675" y="1966.32" width="44.2" height="15.4" fill="#e3b083"/>
<text x="1737.60" y="1981.72" font-size="21.72" text-anchor="start" fill="#231f20">Weighted avg-precision</text>
<rect x="1675" y="1997.49" width="44.2" height="15.4" fill="#d57b37"/>
<text x="1737.60" y="2012.89" font-size="21.72" text-anchor="start" fill="#231f20">Weighted avg-recall</text>
<rect x="1675" y="2028.66" width="44.2" height="15.4" fill="#bbabc9"/>
<text x="1737.60" y="2044.06" font-size="21.72" text-anchor="start" fill="#231f20">Weighted avg-f1-score</text>
</g>
</svg>
</body></html>
